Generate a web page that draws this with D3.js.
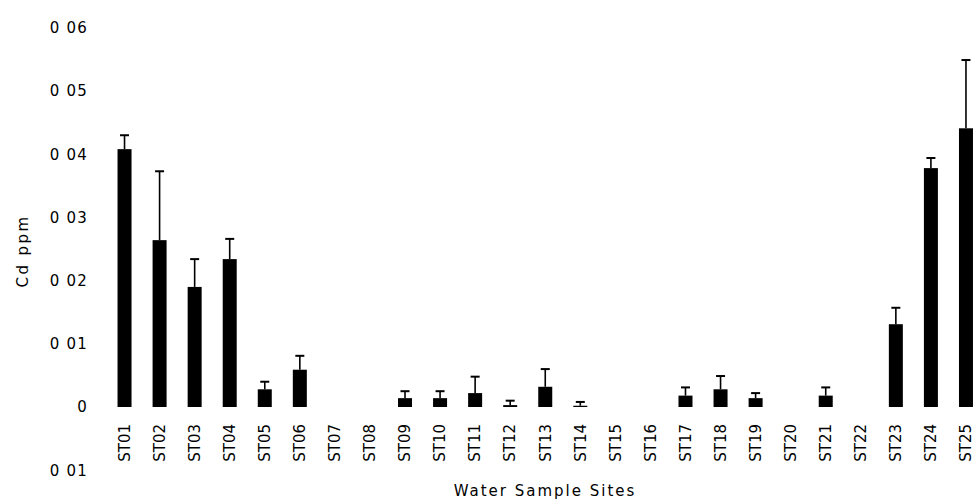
<!DOCTYPE html>
<html>
<head>
<meta charset="utf-8">
<script src="https://cdn.jsdelivr.net/npm/d3@7"></script>
<style>
  body { margin: 0; background: #fff; }
  svg { display: block; }
  text { font-family: "DejaVu Sans", sans-serif; fill: #000; }
</style>
</head>
<body>
<svg id="chart" width="977" height="499"></svg>
<script>
const sites = ["ST01","ST02","ST03","ST04","ST05","ST06","ST07","ST08","ST09","ST10",
               "ST11","ST12","ST13","ST14","ST15","ST16","ST17","ST18","ST19","ST20",
               "ST21","ST22","ST23","ST24","ST25"];

// mean Cd concentration (ppm)
const cdValues = [0.0408, 0.0264, 0.0190, 0.0234, 0.0028, 0.0059, 0, 0, 0.0014, 0.0014,
                  0.0022, 0.0003, 0.0032, 0.0002, 0, 0, 0.0018, 0.0028, 0.0014, 0,
                  0.0018, 0, 0.0131, 0.0378, 0.0441];

// upper error (standard deviation)
const cdErrors = [0.0022, 0.0109, 0.0044, 0.0032, 0.0012, 0.0022, 0, 0, 0.0011, 0.0011,
                  0.0026, 0.0007, 0.0028, 0.0006, 0, 0, 0.0013, 0.0021, 0.0008, 0,
                  0.0013, 0, 0.0026, 0.0016, 0.0108];

const yTicks = [-0.01, 0, 0.01, 0.02, 0.03, 0.04, 0.05, 0.06];
const yTickLabels = ["0 01", "0", "0 01", "0 02", "0 03", "0 04", "0 05", "0 06"];

const svg = d3.select("#chart");

const x = d3.scaleBand()
    .domain(sites)
    .range([107, 983.5])
    .padding(0);

const y = d3.scaleLinear()
    .domain([-0.01, 0.06])
    .range([470.2, 27.8]);

const barW = 14;

const data = sites.map((s, i) => ({ site: s, value: cdValues[i], err: cdErrors[i] }));

// y axis, no line, no ticks
const yAxis = svg.append("g")
    .attr("transform", "translate(88,0)")
    .call(d3.axisLeft(y)
        .tickValues(yTicks)
        .tickSize(0)
        .tickPadding(0)
        .tickFormat((d, i) => yTickLabels[i]));
yAxis.select(".domain").remove();
yAxis.selectAll("text")
    .style("font-family", "DejaVu Sans, sans-serif")
    .style("font-size", "15px")
    .style("letter-spacing", "1.2px");

// x axis labels, rotated
const xAxis = svg.append("g")
    .attr("transform", "translate(0,424)")
    .call(d3.axisBottom(x).tickSize(0).tickPadding(0));
xAxis.select(".domain").remove();
xAxis.selectAll("text")
    .style("font-family", "DejaVu Sans, sans-serif")
    .style("font-size", "15px")
    .attr("text-anchor", "end")
    .attr("transform", "rotate(-90)")
    .attr("x", 0)
    .attr("y", 0)
    .attr("dy", "0.35em");

// error bars
const eb = svg.append("g");
eb.selectAll("line.whisker")
    .data(data.filter(d => d.err > 0))
    .enter()
    .append("line")
    .attr("class", "whisker")
    .attr("x1", d => x(d.site) + x.bandwidth() / 2)
    .attr("x2", d => x(d.site) + x.bandwidth() / 2)
    .attr("y1", d => y(d.value))
    .attr("y2", d => y(d.value + d.err))
    .attr("stroke", "#000")
    .attr("stroke-width", 1.6);

eb.selectAll("line.cap")
    .data(data.filter(d => d.err > 0))
    .enter()
    .append("line")
    .attr("class", "cap")
    .attr("x1", d => x(d.site) + x.bandwidth() / 2 - 4.5)
    .attr("x2", d => x(d.site) + x.bandwidth() / 2 + 4.5)
    .attr("y1", d => y(d.value + d.err))
    .attr("y2", d => y(d.value + d.err))
    .attr("stroke", "#000")
    .attr("stroke-width", 2);

// bars
svg.append("g")
    .selectAll("rect")
    .data(data)
    .enter()
    .append("rect")
    .attr("x", d => x(d.site) + (x.bandwidth() - barW) / 2)
    .attr("y", d => y(d.value))
    .attr("width", barW)
    .attr("height", d => y(0) - y(d.value))
    .attr("fill", "#000");

// axis titles
svg.append("text")
    .attr("transform", "translate(28,251) rotate(-90)")
    .attr("text-anchor", "middle")
    .style("font-size", "15px")
    .style("letter-spacing", "2.4px")
    .text("Cd ppm");

svg.append("text")
    .attr("x", 545)
    .attr("y", 496)
    .attr("text-anchor", "middle")
    .style("font-size", "15px")
    .style("letter-spacing", "2px")
    .text("Water Sample Sites");
</script>
</body>
</html>
